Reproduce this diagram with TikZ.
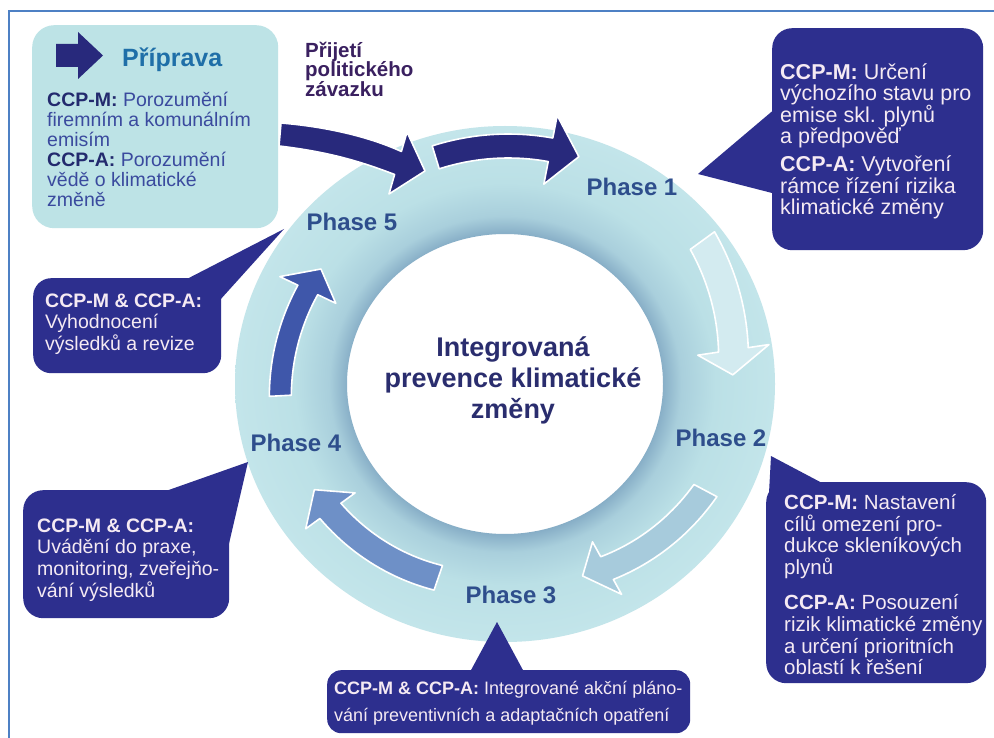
\documentclass[tikz,border=0pt]{standalone}
\usepackage{fontspec}
\setmainfont{Liberation Sans}

\definecolor{frameblue}{HTML}{4D80C4}
\definecolor{boxnavy}{HTML}{2D2F8E}
\definecolor{arrownavy}{HTML}{28297C}
\definecolor{prepfill}{HTML}{BDE3E6}
\definecolor{preptitle}{HTML}{1F6FA8}
\definecolor{prepbold}{HTML}{232A6E}
\definecolor{preptext}{HTML}{3A4A9E}
\definecolor{commitcol}{HTML}{3A2060}
\definecolor{boxtextcol}{HTML}{F5EAF3}
\definecolor{phasecol}{HTML}{2E4E8C}
\definecolor{titlecol}{HTML}{2A2D6E}
\definecolor{ringin}{HTML}{86ADC6}
\definecolor{ringmid}{HTML}{A9CFDC}
\definecolor{ringout}{HTML}{BBE0E6}
\definecolor{ringedge}{HTML}{C3E5EA}
\definecolor{arrowpale}{HTML}{D3EBF0}
\definecolor{arrowlight}{HTML}{A7CBDC}
\definecolor{arrowmid}{HTML}{6E90C7}
\definecolor{arrowblue}{HTML}{3F57AA}

% ring: darker towards the inner white disc
\pgfdeclareradialshading{ringshade}{\pgfpointorigin}{color(0bp)=(white); color(14.5bp)=(ringin); color(16.3bp)=(ringmid); color(19.5bp)=(ringout); color(25bp)=(ringedge); color(50bp)=(ringedge)}

\newcommand\setfs[2]{\fontsize{#1}{#2}\selectfont\lineskiplimit=-50pt\lineskip=0pt}
\newcommand\lineone{\rule{0pt}{1em}}

\newcommand\ringcx{505}
\newcommand\ringcy{384}

% curved block arrow along the ring
% #1 style, #2 start angle, #3 head angle, #4 tip angle,
% #5 start radius, #6 tip radius, #7 shaft width, #8 head width
\newcommand\ringarrow[8]{%
  \path[#1]
    plot[domain=#2:#3,samples=24]
      ({\ringcx+(#5+((#6)-(#5))*(\x-(#2))/((#4)-(#2))+(#7)/2)*cos(\x)},
       {\ringcy+(#5+((#6)-(#5))*(\x-(#2))/((#4)-(#2))+(#7)/2)*sin(\x)})
    -- ({\ringcx+(#5+((#6)-(#5))*((#3)-(#2))/((#4)-(#2))+(#8)/2)*cos(#3)},
        {\ringcy+(#5+((#6)-(#5))*((#3)-(#2))/((#4)-(#2))+(#8)/2)*sin(#3)})
    -- ({\ringcx+(#6)*cos(#4)},{\ringcy+(#6)*sin(#4)})
    -- ({\ringcx+(#5+((#6)-(#5))*((#3)-(#2))/((#4)-(#2))-(#8)/2)*cos(#3)},
        {\ringcy+(#5+((#6)-(#5))*((#3)-(#2))/((#4)-(#2))-(#8)/2)*sin(#3)})
    -- plot[domain=#3:#2,samples=24]
      ({\ringcx+(#5+((#6)-(#5))*(\x-(#2))/((#4)-(#2))-(#7)/2)*cos(\x)},
       {\ringcy+(#5+((#6)-(#5))*(\x-(#2))/((#4)-(#2))-(#7)/2)*sin(\x)})
    -- cycle;}

\begin{document}
\begin{tikzpicture}[x=1pt,y=-1pt,
  navybox/.style={fill=boxnavy, rounded corners=20pt, inner sep=0pt, anchor=north west},
  prepbox/.style={fill=prepfill, rounded corners=22pt, inner sep=0pt, anchor=north west},
  textblock/.style={inner sep=0pt, anchor=north west, align=left},
  navytext/.style={textblock, text=boxtextcol},
  phaselabel/.style={inner sep=0pt, text=phasecol, font=\setfs{24}{28}\bfseries},
  arrowline/.style={draw=white, line width=1.6pt, line join=round}]

\useasboundingbox (0,0) rectangle (994,738);
\fill[white] (0,0) rectangle (994,738);

% frame lines
\draw[frameblue, line width=2.6pt] (9,738) -- (9,11) -- (994,11);

% ring
\shade[even odd rule, shading=ringshade]
  (\ringcx,\ringcy) ellipse [x radius=270pt, y radius=258pt]
  (\ringcx,\ringcy) ellipse [x radius=158pt, y radius=150pt];

% cycle arrows
\ringarrow{arrowline, fill=arrownavy}{-107}{-79}{-72}{237}{239}{24}{70}
\ringarrow{arrowline, fill=arrowpale}{-36}{-8.5}{-2.3}{244}{228}{30}{72}
\ringarrow{arrowline, fill=arrowlight}{28}{61}{68}{227}{207}{26}{60}
\ringarrow{arrowline, fill=arrowmid}{109}{144}{151}{205}{218}{26}{61}
\ringarrow{arrowline, fill=arrowblue}{177}{205.5}{212}{225}{217}{22}{62}

% entry arrow (political commitment)
\path[arrowline, fill=arrownavy]
  (281,123) .. controls (330,127) and (372,138) .. (401.4,151.5)
  -- (407,132) -- (425,171) -- (389,194) -- (394.6,174.5)
  .. controls (362,162) and (330,152) .. (279,146) -- cycle;

% phase labels
\node[phaselabel] (p1) at (632,187) {Phase 1};
\node[phaselabel] (p2) at (721,438) {Phase 2};
\node[phaselabel] (p3) at (511,595) {Phase 3};
\node[phaselabel] (p4) at (296,443) {Phase 4};
\node[phaselabel] (p5) at (352,222) {Phase 5};

% centre title
\node[anchor=north, inner sep=0pt, align=center, text=titlecol, font=\setfs{27}{31}\bfseries]
  (title) at (513,329.5) {\lineone Integrovaná\\prevence klimatické\\změny};

% preparation box
\node[prepbox, minimum width=246pt, minimum height=203pt] (prep) at (32,25) {};
\fill[arrownavy] (56,44) -- (78,44) -- (78,32) -- (103,55.5) -- (78,79) -- (78,67) -- (56,67) -- cycle;
\node[textblock, text=preptitle, font=\setfs{25}{28}\bfseries] (preptitle) at (122,41.7) {\lineone Příprava};
\node[textblock, text=preptext, font=\setfs{19.5}{20}] (preptxt) at (47,87.3)
  {\lineone\textcolor{prepbold}{\textbf{CCP-M:}} Porozumění\\firemním a komunálním\\emisím\\%
   \textcolor{prepbold}{\textbf{CCP-A:}} Porozumění\\vědě o klimatické\\změně};

% political commitment
\node[textblock, text=commitcol, font=\setfs{20.5}{19.5}\bfseries] (commit) at (305,36.7)
  {\lineone Přijetí\\politického\\závazku};

% phase 1 callout
\node[navybox, minimum width=211pt, minimum height=222pt] (m1box) at (772,28) {};
\coordinate (m1tip) at (698,174);
\fill[boxnavy] (m1tip) -- (776,108) -- (776,194) -- cycle;
\node[navytext, font=\setfs{21.5}{21.3}] (m1txt) at (780,58)
  {\lineone\textbf{CCP-M:} Určení\\výchozího stavu pro\\emise skl. plynů\\a předpověď\\[7pt]%
   \textbf{CCP-A:} Vytvoření\\rámce řízení rizika\\klimatické změny};

% phase 2 callout
\node[navybox, minimum width=220pt, minimum height=201pt] (m2box) at (766,482) {};
\coordinate (m2tip) at (771,456);
\fill[boxnavy] (m2tip) -- (824,484) -- (767,530) -- cycle;
\node[navytext, font=\setfs{20.5}{21.7}] (m2txt) at (784,488.7)
  {\lineone\textbf{CCP-M:} Nastavení\\cílů omezení pro-\\dukce skleníkových\\plynů\\[13.5pt]%
   \textbf{CCP-A:} Posouzení\\rizik klimatické změny\\a určení prioritních\\oblastí k řešení};

% phase 3 callout
\node[navybox, rounded corners=14pt, minimum width=363pt, minimum height=63pt] (m3box) at (327,670) {};
\coordinate (m3tip) at (497,622);
\fill[boxnavy] (m3tip) -- (470,672) -- (524,672) -- cycle;
\node[navytext, font=\setfs{18}{26.7}] (m3txt) at (334,676.3)
  {\lineone\textbf{CCP-M \& CCP-A:} Integrované akční pláno-\\vání preventivních a adaptačních opatření};

% phase 4 callout
\node[navybox, minimum width=206pt, minimum height=128pt] (m4box) at (23,490) {};
\coordinate (m4tip) at (248,462);
\fill[boxnavy] (m4tip) -- (163,492) -- (228,548) -- cycle;
\node[navytext, font=\setfs{19.5}{21.7}] (m4txt) at (37,512.3)
  {\lineone\textbf{CCP-M \& CCP-A:}\\Uvádění do praxe,\\monitoring, zveřejňo-\\vání výsledků};

% phase 5 callout
\node[navybox, rounded corners=18pt, minimum width=188pt, minimum height=95pt] (m5box) at (33,278) {};
\coordinate (m5tip) at (284,229);
\fill[boxnavy] (m5tip) -- (183,281) -- (220,300) -- cycle;
\node[navytext, font=\setfs{19.5}{21.5}] (m5txt) at (45,287.3)
  {\lineone\textbf{CCP-M \& CCP-A:}\\Vyhodnocení\\výsledků a revize};

\end{tikzpicture}
\end{document}
